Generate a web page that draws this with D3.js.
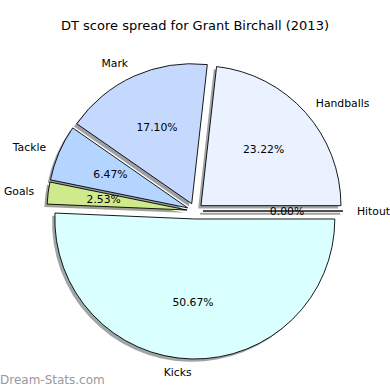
<!DOCTYPE html>
<html><head><meta charset="utf-8">
<script src="https://cdn.jsdelivr.net/npm/d3@7"></script>
<style>body{margin:0;background:#fff}svg{display:block}text{font-family:"DejaVu Sans",sans-serif}</style>
</head><body>
<svg id="c" width="390" height="390"></svg>
<script>
const categories = ["Handballs","Mark","Tackle","Goals","Kicks","Hitout"];
const values = [23.22,17.10,6.47,2.53,50.67,0.00];
const colors = ["#eaf1ff","#c5d9ff","#b3d5ff","#cfea8c","#d9ffff","#e0e0ff"];
const title = "DT score spread for Grant Birchall (2013)";

const svg = d3.select("#c");
const W=390,H=390, cx=195, cy=211, R=140, explode=8, shadowOff=2.8;

svg.append("text").attr("x",W/2).attr("y",25).attr("text-anchor","middle")
  .attr("dominant-baseline","central").attr("font-size",13).text(title);

const pie = d3.pie().sort(null).value(d=>d)
  .startAngle(Math.PI/2).endAngle(Math.PI/2-2*Math.PI);
const arcs = pie(values);
const arc = d3.arc().innerRadius(0).outerRadius(R);

function dir(a){return [Math.sin(a), -Math.cos(a)];}

const items = arcs.map((d,i)=>{
  const m=(d.startAngle+d.endAngle)/2, v=dir(m);
  return {d,i,v,ox:cx+explode*v[0],oy:cy+explode*v[1]};
});

function pathFor(d){
  const a0=Math.min(d.startAngle,d.endAngle), a1=Math.max(d.startAngle,d.endAngle);
  if (a1-a0<1e-9){
    const p=dir(a0); return `M0,0L${R*p[0]},${R*p[1]}Z`;
  }
  return arc({startAngle:a0,endAngle:a1});
}

// shadows
const sh = svg.append("g");
items.forEach(it=>{
  const c=d3.rgb(colors[it.i]);
  const sc=d3.rgb(c.r*0.3,c.g*0.3,c.b*0.3);
  const p=sh.append("path").attr("d",pathFor(it.d))
    .attr("transform",`translate(${it.ox-shadowOff},${it.oy+shadowOff})`);
  if (it.d.value===0) p.attr("fill","none").attr("stroke",sc.toString()).attr("stroke-opacity",0.5).attr("stroke-width",2);
  else p.attr("fill",sc.toString()).attr("fill-opacity",0.5);
});

// wedges
const wg = svg.append("g");
items.forEach(it=>{
  wg.append("path").attr("d",pathFor(it.d))
    .attr("transform",`translate(${it.ox},${it.oy})`)
    .attr("fill",colors[it.i]).attr("stroke","#000").attr("stroke-width",0.9)
    .attr("stroke-linejoin","miter");
});

// labels
const lg = svg.append("g").attr("font-size",10.8).attr("fill","#000");
items.forEach(it=>{
  const lx=it.ox+1.1*R*it.v[0], ly=it.oy+1.1*R*it.v[1];
  lg.append("text").attr("x",lx).attr("y",ly)
    .attr("text-anchor", it.v[0]>0?"start":"end")
    .attr("dominant-baseline","central").text(categories[it.i]);
  const px=it.ox+0.6*R*it.v[0], py=it.oy+0.6*R*it.v[1];
  lg.append("text").attr("x",px).attr("y",py).attr("text-anchor","middle")
    .attr("dominant-baseline","central").text(values[it.i].toFixed(2)+"%");
});

svg.append("text").attr("x",0).attr("y",380).attr("dominant-baseline","central")
  .attr("font-size",12).attr("fill","#999").text("Dream-Stats.com");
</script>
</body></html>
